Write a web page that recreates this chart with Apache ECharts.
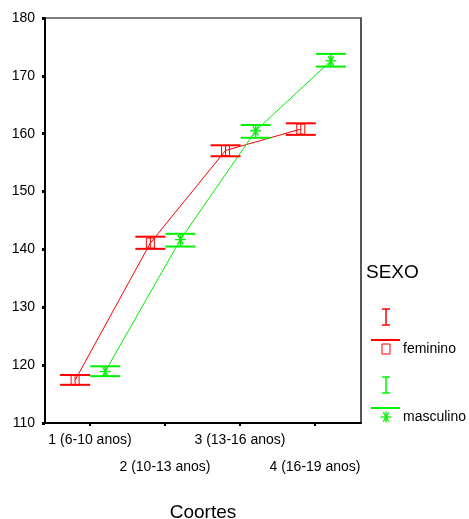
<!DOCTYPE html>
<html><head><meta charset="utf-8">
<script src="https://cdn.jsdelivr.net/npm/echarts@6/dist/echarts.min.js"></script>
<style>html,body{margin:0;padding:0;background:#fff}#c{width:469px;height:519px}</style>
</head><body><div id="c"></div>
<script>
const categories = ['1 (6-10 anos)', '2 (10-13 anos)', '3 (13-16 anos)', '4 (16-19 anos)'];
const femMean = [117.4, 141.1, 157.1, 160.8];
const femLow  = [116.6, 140.1, 156.1, 159.8];
const femHigh = [118.3, 142.2, 158.0, 161.8];
const mascMean = [118.9, 141.7, 160.5, 172.6];
const mascLow  = [118.1, 140.5, 159.3, 171.6];
const mascHigh = [119.8, 142.7, 161.5, 173.8];
const yTicks = [110, 120, 130, 140, 150, 160, 170, 180];
const xPos = [1, 2, 3, 4];
const RED = '#ff0000', GREEN = '#00f000';
const FONT = 'Liberation Sans, Arial, sans-serif';

function rows(mean, low, high, off) {
  return mean.map((m, i) => [xPos[i] + off, m, low[i], high[i]]);
}
const femRows = rows(femMean, femLow, femHigh, -0.2);
const mascRows = rows(mascMean, mascLow, mascHigh, 0.2);

function asterisk(cx, cy, r, color) {
  const out = [];
  [0, 60, 90, 120].forEach(a => {
    const rad = a * Math.PI / 180, dx = Math.cos(rad) * r, dy = Math.sin(rad) * r;
    out.push({type: 'line', shape: {x1: cx - dx, y1: cy - dy, x2: cx + dx, y2: cy + dy},
      style: {stroke: color, lineWidth: 1.3}});
  });
  return out;
}
function square(cx, cy, color) {
  return [{type: 'rect', shape: {x: cx - 4, y: cy - 5, width: 8, height: 10},
    style: {fill: 'none', stroke: color, lineWidth: 1}}];
}

function makeRender(color, kind) {
  return function (params, api) {
    const x = api.value(0);
    const pm = api.coord([x, api.value(1)]);
    const pl = api.coord([x, api.value(2)]);
    const ph = api.coord([x, api.value(3)]);
    const hw = 15;
    const ch = [
      {type: 'line', shape: {x1: pl[0], y1: pl[1], x2: ph[0], y2: ph[1]}, style: {stroke: color, lineWidth: 1}},
      {type: 'line', shape: {x1: pl[0] - hw, y1: pl[1], x2: pl[0] + hw, y2: pl[1]}, style: {stroke: color, lineWidth: 2}},
      {type: 'line', shape: {x1: ph[0] - hw, y1: ph[1], x2: ph[0] + hw, y2: ph[1]}, style: {stroke: color, lineWidth: 2}}
    ];
    const mk = kind === 'sq' ? square(pm[0], pm[1], color) : asterisk(pm[0], pm[1], 5.5, color);
    return {type: 'group', children: ch.concat(mk)};
  };
}

function legendItem(y0, color, kind, label) {
  const cx = 386;
  const els = [
    {type: 'line', shape: {x1: cx, y1: y0, x2: cx, y2: y0 + 16}, style: {stroke: color, lineWidth: 1.5}},
    {type: 'line', shape: {x1: cx - 4, y1: y0, x2: cx + 4, y2: y0}, style: {stroke: color, lineWidth: 1.5}},
    {type: 'line', shape: {x1: cx - 4, y1: y0 + 16, x2: cx + 4, y2: y0 + 16}, style: {stroke: color, lineWidth: 1.5}},
    {type: 'line', shape: {x1: 371, y1: y0 + 31, x2: 400, y2: y0 + 31}, style: {stroke: color, lineWidth: 2}},
    {type: 'text', x: 403, y: y0 + 40, style: {text: label, fill: '#000', font: '14px ' + FONT, textVerticalAlign: 'middle'}}
  ];
  const mk = kind === 'sq' ? square(cx, y0 + 40, color) : asterisk(cx, y0 + 40, 5.5, color);
  return els.concat(mk);
}

const chart = echarts.init(document.getElementById('c'), null, {renderer: 'canvas'});
chart.setOption({
  animation: false,
  backgroundColor: '#fff',
  grid: [
    {left: 45, top: 18, right: 108, bottom: 96, show: true, borderColor: '#000', borderWidth: 1, containLabel: false, outerBoundsMode: 'none'},
    {left: 52.5, top: 18, right: 116.5, bottom: 96, containLabel: false, outerBoundsMode: 'none'}
  ],
  xAxis: [{
    gridIndex: 0, type: 'value', min: 0.4, max: 4.6,
    name: 'Coortes', nameLocation: 'middle', nameGap: 80,
    nameTextStyle: {fontSize: 19, color: '#000', fontFamily: FONT},
    splitLine: {show: false},
    axisLine: {show: true, onZero: false, lineStyle: {color: '#000', width: 2}},
    axisTick: {show: false}, axisLabel: {show: false}
  }, {
    gridIndex: 1, type: 'category', data: categories, boundaryGap: true,
    axisLine: {show: false},
    axisTick: {show: true, alignWithLabel: true, length: 3, lineStyle: {color: '#000', width: 2}},
    axisLabel: {
      interval: 0, margin: 4, color: '#000', fontSize: 14, fontFamily: FONT, lineHeight: 27,
      formatter: (v, i) => i % 2 === 1 ? '\n' + v : v
    }
  }],
  yAxis: [{
    gridIndex: 0, type: 'value', min: 110, max: 180, interval: 10,
    splitLine: {show: false},
    axisLine: {show: true, lineStyle: {color: '#000', width: 2}},
    axisTick: {show: true, length: 3, lineStyle: {color: '#000', width: 3}},
    axisLabel: {color: '#000', fontSize: 14, fontFamily: FONT, margin: 10,
      formatter: v => yTicks.indexOf(v) >= 0 ? String(v) : ''}
  }, {
    gridIndex: 0, type: 'value', min: 110, max: 180, position: 'right',
    splitLine: {show: false},
    axisLine: {show: true, lineStyle: {color: '#555', width: 2}},
    axisTick: {show: false}, axisLabel: {show: false}
  }, {
    gridIndex: 1, type: 'value', min: 110, max: 180, show: false
  }],
  series: [
    {type: 'line', xAxisIndex: 0, yAxisIndex: 0, data: femRows.map(r => [r[0], r[1]]), symbol: 'none', lineStyle: {color: RED, width: 1}, z: 2},
    {type: 'line', xAxisIndex: 0, yAxisIndex: 0, data: mascRows.map(r => [r[0], r[1]]), symbol: 'none', lineStyle: {color: GREEN, width: 1}, z: 2},
    {type: 'custom', xAxisIndex: 0, yAxisIndex: 0, data: femRows, renderItem: makeRender(RED, 'sq'), encode: {x: 0, y: [1, 2, 3]}, z: 3},
    {type: 'custom', xAxisIndex: 0, yAxisIndex: 0, data: mascRows, renderItem: makeRender(GREEN, 'ast'), encode: {x: 0, y: [1, 2, 3]}, z: 3}
  ],
  graphic: [
    {type: 'text', x: 366, y: 273, style: {text: 'SEXO', fill: '#000', font: '19px ' + FONT, textVerticalAlign: 'middle'}}
  ].concat(legendItem(309, RED, 'sq', 'feminino')).concat(legendItem(377, GREEN, 'ast', 'masculino'))
});
</script></body></html>
